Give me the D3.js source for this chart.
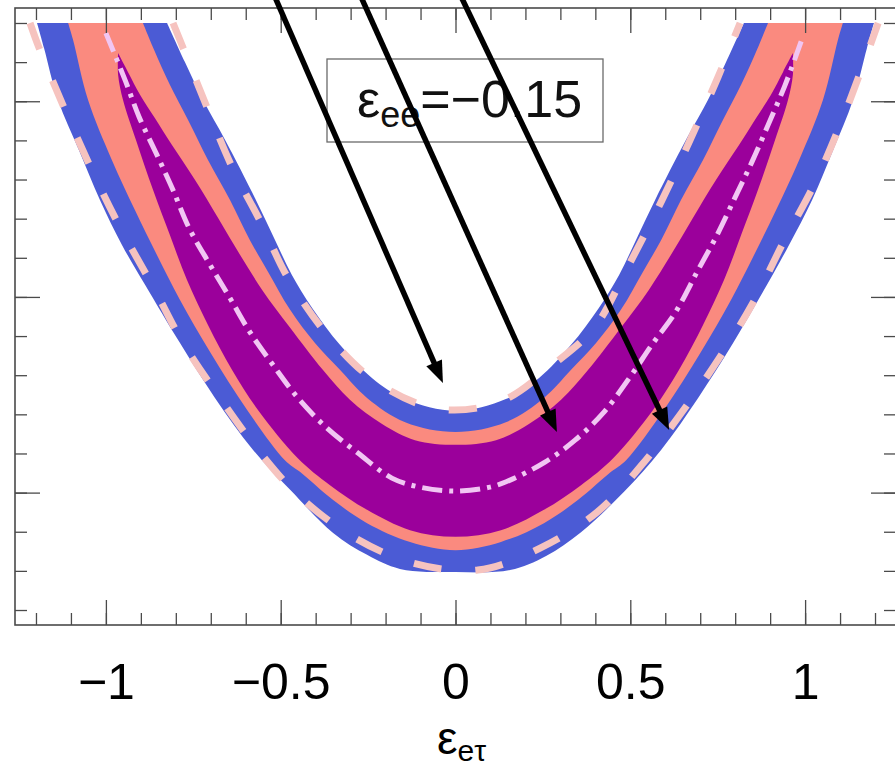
<!DOCTYPE html>
<html>
<head>
<meta charset="utf-8">
<script src="https://cdn.jsdelivr.net/npm/d3@7"></script>
<style>
  html, body { margin: 0; padding: 0; background: #ffffff; }
  svg { display: block; }
</style>
</head>
<body>
<svg id="chart" width="895" height="769"></svg>
<script>
// Allowed regions in the (ε_eτ, ε_ττ) plane for fixed ε_ee = −0.15.
// Every contour is a list of [ε_eτ, ε_ττ] points.

const eeValue = "−0.15";

// Axis ticks
const xMajorTicks = [-1, -0.5, 0, 0.5, 1];
const xTickLabels = ["−1", "−0.5", "0", "0.5", "1"];
const xMinorTicks = [-1.2, -1.1, -1.0, -0.9, -0.8, -0.7, -0.6, -0.5, -0.4, -0.3, -0.2, -0.1, 0,
                     0.1, 0.2, 0.3, 0.4, 0.5, 0.6, 0.7, 0.8, 0.9, 1.0, 1.1, 1.2];
const yMajorTicks = [0, 0.5, 1];
const yMinorTicks = [-0.3, -0.2, -0.1, 0, 0.1, 0.2, 0.3, 0.4, 0.5, 0.6, 0.7, 0.8, 0.9, 1.0, 1.1, 1.2];

// Outermost (blue) region: lower/outer edge and upper/inner edge
const blueOuter = [
  [-1.197, 1.200], [-1.177, 1.136], [-1.137, 1.003], [-1.077, 0.875], [-1.017, 0.748],
  [-0.954, 0.633], [-0.888, 0.531], [-0.788, 0.382], [-0.688, 0.242], [-0.579, 0.109],
  [-0.473, 0.007], [-0.350, -0.103], [-0.253, -0.159], [-0.159, -0.195], [0.000, -0.203],
  [0.156, -0.198], [0.259, -0.162], [0.359, -0.101], [0.482, 0.002], [0.588, 0.109],
  [0.694, 0.242], [0.794, 0.382], [0.891, 0.531], [0.954, 0.633], [1.020, 0.748],
  [1.080, 0.875], [1.137, 1.003], [1.177, 1.136], [1.197, 1.200]
];
const blueInner = [
  [-0.825, 1.200], [-0.774, 1.100], [-0.722, 1.003], [-0.659, 0.901], [-0.571, 0.748],
  [-0.516, 0.645], [-0.468, 0.556], [-0.410, 0.472], [-0.330, 0.377], [-0.239, 0.293],
  [-0.144, 0.239], [0.000, 0.209],
  [0.144, 0.239], [0.239, 0.293], [0.330, 0.377], [0.410, 0.472], [0.468, 0.556],
  [0.516, 0.645], [0.571, 0.748], [0.659, 0.901], [0.722, 1.003], [0.774, 1.100], [0.825, 1.200]
];

// Middle (salmon) region
const salmonOuter = [
  [-1.108, 1.200], [-1.094, 1.157], [-1.051, 1.003], [-0.983, 0.850], [-0.917, 0.722],
  [-0.854, 0.607], [-0.788, 0.492], [-0.702, 0.359], [-0.596, 0.211], [-0.488, 0.083],
  [-0.445, 0.053], [-0.350, -0.019], [-0.253, -0.078], [-0.130, -0.126], [0.000, -0.147],
  [0.130, -0.126], [0.253, -0.078], [0.350, -0.019], [0.445, 0.053], [0.488, 0.083],
  [0.596, 0.211], [0.702, 0.359], [0.788, 0.492], [0.854, 0.607], [0.917, 0.722],
  [0.983, 0.850], [1.051, 1.003], [1.094, 1.157], [1.108, 1.200]
];
const salmonInner = [
  [-0.894, 1.200], [-0.862, 1.131], [-0.817, 1.042], [-0.765, 0.952], [-0.708, 0.850],
  [-0.645, 0.748], [-0.588, 0.645], [-0.536, 0.564], [-0.473, 0.467], [-0.402, 0.382],
  [-0.330, 0.313], [-0.253, 0.242], [-0.144, 0.180], [0.000, 0.155],
  [0.144, 0.180], [0.253, 0.242], [0.330, 0.313], [0.402, 0.382], [0.473, 0.467],
  [0.536, 0.564], [0.588, 0.645], [0.645, 0.748], [0.708, 0.850], [0.765, 0.952],
  [0.817, 1.042], [0.862, 1.131], [0.894, 1.200]
];

// Innermost (purple) region, closed with a tip on each arm
const purpleOuter = [
  [-0.965, 1.123], [-0.965, 1.067], [-0.951, 1.003], [-0.914, 0.901], [-0.865, 0.773],
  [-0.817, 0.658], [-0.768, 0.543], [-0.708, 0.428], [-0.639, 0.313], [-0.565, 0.211],
  [-0.451, 0.088], [-0.359, 0.019], [-0.253, -0.044], [-0.130, -0.096], [0.000, -0.113],
  [0.130, -0.096], [0.253, -0.044], [0.359, 0.019], [0.451, 0.088], [0.565, 0.211],
  [0.639, 0.313], [0.708, 0.428], [0.768, 0.543], [0.817, 0.658], [0.865, 0.773],
  [0.914, 0.901], [0.951, 1.003], [0.965, 1.067], [0.965, 1.123]
];
const purpleInner = [
  [-0.965, 1.123], [-0.937, 1.075], [-0.902, 1.016], [-0.860, 0.957], [-0.811, 0.888],
  [-0.745, 0.799], [-0.679, 0.702], [-0.616, 0.607], [-0.553, 0.518], [-0.473, 0.421],
  [-0.379, 0.313], [-0.302, 0.237], [-0.210, 0.175], [-0.116, 0.134], [0.000, 0.122],
  [0.116, 0.134], [0.210, 0.175], [0.302, 0.237], [0.379, 0.313], [0.473, 0.421],
  [0.553, 0.518], [0.616, 0.607], [0.679, 0.702], [0.745, 0.799], [0.811, 0.888],
  [0.860, 0.957], [0.902, 1.016], [0.937, 1.075], [0.965, 1.123]
];

// Best-fit curve (dash-dot)
const bestFit = [
  [-1.000, 1.174], [-0.945, 1.054], [-0.905, 0.960], [-0.854, 0.863], [-0.808, 0.773],
  [-0.762, 0.676], [-0.702, 0.582], [-0.645, 0.497], [-0.588, 0.410], [-0.522, 0.326],
  [-0.451, 0.242], [-0.368, 0.165], [-0.279, 0.101], [-0.182, 0.037], [-0.102, 0.014],
  [0.000, 0.004],
  [0.099, 0.014], [0.156, 0.032], [0.256, 0.078], [0.342, 0.134], [0.422, 0.203],
  [0.499, 0.295], [0.565, 0.382], [0.628, 0.459], [0.694, 0.569], [0.748, 0.658],
  [0.799, 0.753], [0.848, 0.845], [0.894, 0.939], [0.943, 1.042], [0.994, 1.166]
];

// Comparison contour (dashed): outer and inner edges
const dashedOuter = [
  [-1.217, 1.200], [-1.191, 1.136], [-1.117, 0.978], [-1.040, 0.824], [-0.960, 0.679],
  [-0.860, 0.518], [-0.779, 0.382], [-0.674, 0.242], [-0.565, 0.109], [-0.445, -0.011],
  [-0.287, -0.116], [-0.122, -0.180], [0.064, -0.198], [0.242, -0.142], [0.405, -0.050],
  [0.533, 0.071], [0.648, 0.206], [0.751, 0.339], [0.851, 0.485], [0.937, 0.638],
  [1.028, 0.791], [1.100, 0.939], [1.166, 1.093], [1.209, 1.200]
];
const dashedInner = [
  [-0.808, 1.200], [-0.779, 1.136], [-0.711, 0.985], [-0.639, 0.832], [-0.553, 0.684],
  [-0.479, 0.548], [-0.359, 0.395], [-0.222, 0.280], [-0.050, 0.214], [0.127, 0.232],
  [0.285, 0.331], [0.399, 0.424], [0.493, 0.577], [0.591, 0.748], [0.671, 0.901],
  [0.751, 1.062], [0.814, 1.200]
];

// Pointer arrows: [start, tip]
const arrows = [
  { from: [-0.525, 1.284], to: [-0.036, 0.280] },
  { from: [-0.279, 1.284], to: [0.290, 0.155] },
  { from: [0.007, 1.284], to: [0.611, 0.160] }
];

// ---------------------------------------------------------------------
const svg = d3.select("#chart");
const plot = { left: 15, right: 896, top: 8, bottom: 625 };

const x = d3.scaleLinear().domain([-1.26, 1.26]).range([plot.left, plot.right]);
const y = d3.scaleLinear().domain([-0.3383, 1.2383]).range([plot.bottom, plot.top]);

const colors = {
  blue: "#4b5bd5",
  salmon: "#fa8a7f",
  purple: "#9b009b",
  dashed: "#f6c3bf",
  bestFit: "#f1c6f3",
  frame: "#4a4a4a"
};

svg.append("defs").append("clipPath").attr("id", "plotClip")
  .append("rect")
  .attr("x", plot.left).attr("y", plot.top)
  .attr("width", plot.right - plot.left).attr("height", plot.bottom - plot.top);

const smooth = d3.line()
  .x(d => x(d[0]))
  .y(d => y(d[1]))
  .curve(d3.curveCatmullRom.alpha(0.5));

// Closed region between two edges: outer edge left to right, inner edge back
function region(outer, inner) {
  const a = smooth(outer);
  const b = smooth(inner.slice().reverse());
  return a + "L" + b.slice(1) + "Z";
}

const g = svg.append("g").attr("clip-path", "url(#plotClip)");

g.append("path").attr("d", region(blueOuter, blueInner)).attr("fill", colors.blue);
g.append("path").attr("d", region(salmonOuter, salmonInner)).attr("fill", colors.salmon);
g.append("path").attr("d", region(purpleOuter, purpleInner)).attr("fill", colors.purple);

g.append("path").attr("d", smooth(bestFit))
  .attr("fill", "none")
  .attr("stroke", colors.bestFit)
  .attr("stroke-width", 5)
  .attr("stroke-dasharray", "20,7,4,7");

[dashedOuter, dashedInner].forEach(edge => {
  g.append("path").attr("d", smooth(edge))
    .attr("fill", "none")
    .attr("stroke", colors.dashed)
    .attr("stroke-width", 7)
    .attr("stroke-dasharray", "28,34");
});

// ---------------------------------------------------------------------
// Axes: ticks point inward on all four sides, labels only at the bottom
const minorLen = 12, majorLen = 25;

function styleAxis(sel) {
  sel.select(".domain").remove();
  sel.selectAll(".tick line").attr("stroke", colors.frame).attr("stroke-width", 1.3);
}

svg.append("g").attr("transform", `translate(0,${plot.bottom})`)
  .call(d3.axisBottom(x).tickValues(xMinorTicks).tickSize(-minorLen).tickFormat(""))
  .call(styleAxis);
svg.append("g").attr("transform", `translate(0,${plot.bottom})`)
  .call(d3.axisBottom(x).tickValues(xMajorTicks).tickSize(-majorLen).tickPadding(38)
    .tickFormat((d, i) => xTickLabels[i]))
  .call(styleAxis)
  .call(sel => sel.selectAll(".tick text")
    .attr("fill", "#000")
    .attr("font-family", "'Liberation Sans', Arial, Helvetica, sans-serif")
    .attr("font-size", 50));

svg.append("g").attr("transform", `translate(0,${plot.top})`)
  .call(d3.axisTop(x).tickValues(xMinorTicks).tickSize(-minorLen).tickFormat(""))
  .call(styleAxis);
svg.append("g").attr("transform", `translate(0,${plot.top})`)
  .call(d3.axisTop(x).tickValues(xMajorTicks).tickSize(-majorLen).tickFormat(""))
  .call(styleAxis);

svg.append("g").attr("transform", `translate(${plot.left},0)`)
  .call(d3.axisLeft(y).tickValues(yMinorTicks).tickSize(-minorLen).tickFormat(""))
  .call(styleAxis);
svg.append("g").attr("transform", `translate(${plot.left},0)`)
  .call(d3.axisLeft(y).tickValues(yMajorTicks).tickSize(-majorLen).tickFormat(""))
  .call(styleAxis);

svg.append("g").attr("transform", `translate(${plot.right},0)`)
  .call(d3.axisRight(y).tickValues(yMinorTicks).tickSize(-minorLen).tickFormat(""))
  .call(styleAxis);
svg.append("g").attr("transform", `translate(${plot.right},0)`)
  .call(d3.axisRight(y).tickValues(yMajorTicks).tickSize(-majorLen).tickFormat(""))
  .call(styleAxis);

svg.append("rect")
  .attr("x", plot.left).attr("y", plot.top)
  .attr("width", plot.right - plot.left).attr("height", plot.bottom - plot.top)
  .attr("fill", "none")
  .attr("stroke", colors.frame)
  .attr("stroke-width", 1.6);

// x-axis title ε_eτ
const xTitle = svg.append("text")
  .attr("x", 437).attr("y", 754)
  .attr("font-family", "'Liberation Sans', Arial, Helvetica, sans-serif")
  .attr("fill", "#000");
xTitle.append("tspan").attr("font-size", 46).text("ε");
xTitle.append("tspan").attr("font-size", 30).attr("dy", 7).text("eτ");

// ---------------------------------------------------------------------
// Legend box with the fixed ε_ee value
const legend = svg.append("g");
legend.append("rect")
  .attr("x", 327).attr("y", 59).attr("width", 276).attr("height", 83)
  .attr("fill", "#ffffff")
  .attr("stroke", "#6a6a6a")
  .attr("stroke-width", 1.3);
const legText = legend.append("text")
  .attr("x", 357).attr("y", 117)
  .attr("font-family", "'Liberation Sans', Arial, Helvetica, sans-serif")
  .attr("fill", "#111");
legText.append("tspan").attr("font-size", 52).text("ε");
legText.append("tspan").attr("font-size", 36).attr("dy", 10).text("ee");
legText.append("tspan").attr("font-size", 52).attr("dy", -10).text("=" + eeValue);

// ---------------------------------------------------------------------
// Arrows
const arrowLayer = svg.append("g");
const headLen = 22, headHalf = 8.5;
arrows.forEach(a => {
  const x1 = x(a.from[0]), y1 = y(a.from[1]);
  const x2 = x(a.to[0]), y2 = y(a.to[1]);
  const ang = Math.atan2(y2 - y1, x2 - x1);
  const bx = x2 - headLen * Math.cos(ang), by = y2 - headLen * Math.sin(ang);
  const px = -Math.sin(ang) * headHalf, py = Math.cos(ang) * headHalf;
  arrowLayer.append("line")
    .attr("x1", x1).attr("y1", y1).attr("x2", bx + 2 * Math.cos(ang)).attr("y2", by + 2 * Math.sin(ang))
    .attr("stroke", "#000").attr("stroke-width", 5.5);
  arrowLayer.append("polygon")
    .attr("points", [[x2, y2], [bx + px, by + py], [bx - px, by - py]].map(p => p.join(",")).join(" "))
    .attr("fill", "#000");
});
</script>
</body>
</html>
